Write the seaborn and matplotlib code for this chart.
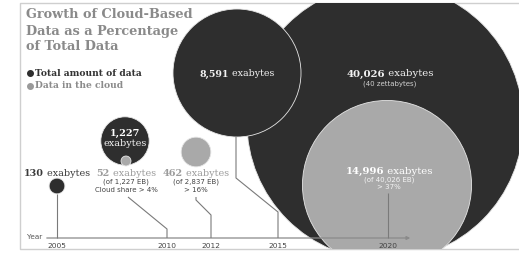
import matplotlib
matplotlib.use("Agg")
import matplotlib.pyplot as plt
from matplotlib.patches import Rectangle
import seaborn as sns
import pandas as pd

# ---------------- data ----------------
years = [2005, 2010, 2012, 2015, 2020]
total_eb = [130, 1227, 2837, 8591, 40026]
cloud_eb = [None, 52, 462, None, 14996]
total_labels = ["130", "1,227", "2,837", "8,591", "40,026"]
cloud_labels = [None, "52", "462", None, "14,996"]
cloud_share = [None, "Cloud share > 4%", "> 16%", None, "> 37%"]
title_lines = ["Growth of Cloud-Based", "Data as a Percentage", "of Total Data"]
legend_labels = ["Total amount of data", "Data in the cloud"]

# ---------------- layout (pixel grid of the 519x256 image) ----------------
W, H = 519, 256
PX_PER_YEAR = 22.06
YEAR0_PX = 57.0          # pixel column of 2005


def px2yr(px):
    return 2005 + (px - YEAR0_PX) / PX_PER_YEAR


# circle centres (pixel column, pixel row) in drawing order
circle_layout = [
    ("total", 2020, 385, 122),
    ("total", 2015, 237, 73),
    ("total", 2010, 125, 141),
    ("total", 2005, 57, 186),
    ("cloud", 2010, 126, 161),
    ("cloud", 2012, 196, 152),
    ("cloud", 2020, 387, 185),
]
AXIS_ROW = 238
FRAME = (20, 3, 519, 249)

DARK = "#2e2e2e"
CLOUD = "#a9a9a9"
LINE = "#7a7a7a"

rows = []
for kind, yr, cx, cy in circle_layout:
    i = years.index(yr)
    val = total_eb[i] if kind == "total" else cloud_eb[i]
    rows.append({"x": px2yr(cx), "y": cy, "value": val, "kind": kind})
df = pd.DataFrame(rows)

sns.set_theme(style="white")
plt.rcParams["font.family"] = ["DejaVu Sans"]

fig = plt.figure(figsize=(W / 100, H / 100), dpi=100)
ax = fig.add_axes([0, 0, 1, 1])
ax.set_xlim(px2yr(0), px2yr(W))
ax.set_ylim(H, 0)
ax.axis("off")

# frame
fx0, fy0, fx1, fy1 = FRAME
ax.plot([px2yr(fx1), px2yr(fx0), px2yr(fx0), px2yr(fx1)], [fy0, fy0, fy1, fy1],
        color="#cfcfcf", lw=1.0, zorder=0)

# 1 px = 0.72 pt ; marker area s = (2 r pt)^2 ; radius 64 px for 8,591 EB
s_per_eb = (2 * 64 * 0.72) ** 2 / 8591
vmax = max(total_eb)
sns.scatterplot(data=df, x="x", y="y", size="value", sizes=(0, vmax * s_per_eb),
                size_norm=(0, vmax), hue="kind",
                palette={"total": DARK, "cloud": CLOUD}, legend=False,
                edgecolor="#e6e6e6", linewidth=0.6, ax=ax, zorder=2)
clip = Rectangle((px2yr(fx0), fy0), px2yr(fx1) - px2yr(fx0), fy1 - fy0,
                 transform=ax.transData, facecolor="none", edgecolor="none")
ax.add_patch(clip)
for c in ax.collections:
    c.set_clip_path(clip)

SERIF = ["DejaVu Serif"]
SANS = ["DejaVu Sans"]


def mixed(xpx, ypx, parts, size):
    """parts = list of (text, weight, color); centred at xpx"""
    arts = []
    for txt, wt, col in parts:
        arts.append(ax.text(0, ypx, txt, fontsize=size, fontweight=wt, color=col,
                            family=SERIF, va="center", ha="left", zorder=5))
    r = fig.canvas.get_renderer()
    widths = [a.get_window_extent(r).width for a in arts]
    start = xpx - sum(widths) / 2
    for a, w in zip(arts, widths):
        a.set_x(px2yr(start))
        start += w
    return arts


# title
for k, line in enumerate(title_lines):
    ax.text(px2yr(26), 15 + k * 16, line, fontsize=9.3, fontweight="bold",
            color="#8a8a8a", family=SERIF, va="center", ha="left")

# legend
ax.scatter([px2yr(30)], [73], s=16, color="#2e2e2e", zorder=5)
ax.scatter([px2yr(30)], [86], s=16, color="#9a9a9a", zorder=5)
ax.text(px2yr(35), 73, legend_labels[0], fontsize=6.6, fontweight="bold",
        color="#333333", family=SERIF, va="center", ha="left")
ax.text(px2yr(35), 86, legend_labels[1], fontsize=6.6, fontweight="bold",
        color="#8c8c8c", family=SERIF, va="center", ha="left")

# labels
mixed(57, 173, [(total_labels[0], "bold", "#3a3a3a"), (" exabytes", "normal", "#3a3a3a")], 6.9)
mixed(126, 173, [(cloud_labels[1], "bold", "#9c9c9c"), (" exabytes", "normal", "#9c9c9c")], 6.9)
mixed(196, 173, [(cloud_labels[2], "bold", "#9c9c9c"), (" exabytes", "normal", "#9c9c9c")], 6.9)
mixed(125, 133, [(total_labels[1], "bold", "white")], 7.0)
mixed(125, 143, [("exabytes", "normal", "#f0f0f0")], 7.0)
mixed(237, 74, [(total_labels[3], "bold", "#f2f2f2"), (" exabytes", "normal", "#f2f2f2")], 6.8)
mixed(390, 74, [(total_labels[4], "bold", "#f2f2f2"), (" exabytes", "normal", "#f2f2f2")], 7.3)
mixed(389, 171, [(cloud_labels[4], "bold", "white"), (" exabytes", "normal", "white")], 7.3)

small = dict(fontsize=5.0, family=SANS, va="center", ha="center", zorder=5)
ax.text(px2yr(126), 182, "(of %s EB)" % total_labels[1], color="#444444", **small)
ax.text(px2yr(126), 190, cloud_share[1], color="#444444", **small)
ax.text(px2yr(196), 182, "(of %s EB)" % total_labels[2], color="#444444", **small)
ax.text(px2yr(196), 190, cloud_share[2], color="#444444", **small)
ax.text(px2yr(390), 84, "(40 zettabytes)", color="#cfcfcf", **small)
ax.text(px2yr(389), 179.5, "(of %s EB)" % total_labels[4], color="#f4f4f4", **small)
ax.text(px2yr(389), 187, cloud_share[4], color="#f4f4f4", **small)

# year axis
ax.annotate("", xy=(px2yr(413), AXIS_ROW), xytext=(px2yr(44), AXIS_ROW),
            arrowprops=dict(arrowstyle="-|>", color="#8a8a8a", lw=0.9,
                            mutation_scale=5), zorder=4)
ax.text(px2yr(27), AXIS_ROW - 1, "Year", fontsize=5.2, color="#555555",
        family=SANS, va="center", ha="left")
for yr in years:
    ax.text(yr, 246, str(yr), fontsize=5.4, color="#444444", family=SANS,
            va="center", ha="center")

# leader lines: bends (px column, px row) after the axis point of each year
leaders = {
    2005: [(57, 194)],
    2010: [(167, 229), (128, 197)],
    2012: [(211, 215), (196, 200), (196, 197)],
    2015: [(278, 212), (236, 178), (236, 136)],
    2020: [(388, 193)],
}
for yr, pts in leaders.items():
    xs = [px2yr(pts[0][0])] + [px2yr(p[0]) for p in pts]
    ys = [AXIS_ROW] + [p[1] for p in pts]
    ax.plot(xs, ys, color=LINE, lw=0.8, zorder=4, solid_capstyle="butt")

fig.savefig("out.png", dpi=100)
